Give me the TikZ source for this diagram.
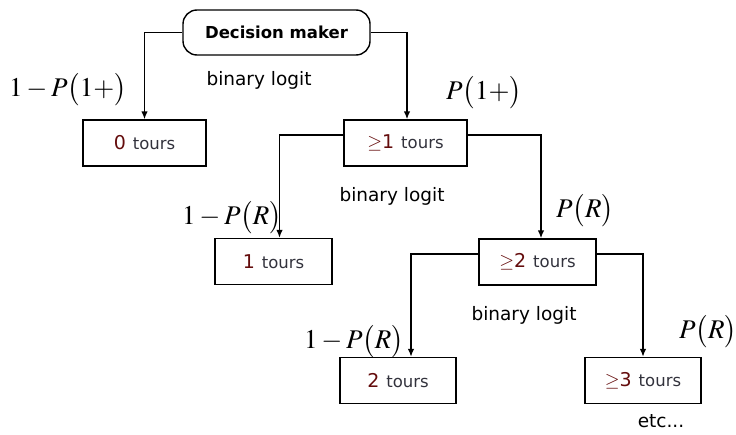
\documentclass[tikz,border=0pt]{standalone}
\usepackage{mathptmx}
\usepackage[no-math]{fontspec}
\setmainfont{DejaVu Sans}
\usetikzlibrary{arrows.meta}
\definecolor{numred}{RGB}{100,12,12}
\definecolor{toursgray}{RGB}{50,50,60}
\newcommand{\tnum}[1]{{\color{numred}\fontsize{19}{22}\selectfont #1}}
\newcommand{\trs}{\hspace{7pt}{\color{toursgray}\fontsize{16.5}{20}\selectfont tours}}
\tikzset{
  tourbox/.style={draw,line width=1.4pt,minimum height=46pt,inner sep=0pt},
  dmbox/.style={draw,line width=1.4pt,rounded corners=14pt,minimum width=187pt,minimum height=45pt,
    font=\fontsize{16.5}{19}\selectfont\bfseries},
  mathlbl/.style={inner sep=0pt,font=\fontsize{27}{30}\selectfont},
  txtlbl/.style={inner sep=0pt,font=\fontsize{18.5}{22}\selectfont},
  conn/.style={->,line width=1.4pt}
}
\begin{document}
\begin{tikzpicture}[x=1pt,y=-1pt,>={Latex[length=8pt,width=6.5pt]}]
   \useasboundingbox (0,0) rectangle (736,434);
   %decision maker
   \node[dmbox] (dm) at (276.5,32.5) {Decision maker};
   %boxes
   \node[tourbox,minimum width=123pt] (t0) at (144.5,143) {\tnum{0}\trs};
   \node[tourbox,minimum width=123pt] (t1) at (405.5,143) {\tnum{$\geq$1}\trs};
   \node[tourbox,minimum width=117pt] (r1) at (273.5,261.5) {\tnum{1}\trs};
   \node[tourbox,minimum width=117pt] (t2) at (537.5,262) {\tnum{$\geq$2}\trs};
   \node[tourbox,minimum width=116pt] (r2) at (398,380.5) {\tnum{2}\trs};
   \node[tourbox,minimum width=116pt] (t3) at (643,380.5) {\tnum{$\geq$3}\trs};
   %connectors
   \draw[conn] (dm.west) -| (t0.north);
   \draw[conn] (dm.east) -| ([xshift=1.5pt]t1.north);
   \draw[conn] ([yshift=8pt]t1.west) -| ([xshift=6pt]r1.north);
   \draw[conn] ([yshift=8pt]t1.east) -| ([xshift=3.5pt]t2.north);
   \draw[conn] ([yshift=8pt]t2.west) -| ([xshift=13pt]r2.north);
   \draw[conn] ([yshift=8pt]t2.east) -| (t3.north);
   %probabilities
   \node[mathlbl] (p0) at (68,90) {$1-P\bigl(1+\bigr)$};
   \node[mathlbl] (p1) at (484,93) {$P\bigl(1+\bigr)$};
   \node[mathlbl] (q1) at (232,218) {$1-P\bigl(R\bigr)$};
   \node[mathlbl] (q2) at (585,211) {$P\bigl(R\bigr)$};
   \node[mathlbl] (q3) at (354,342) {$1-P\bigl(R\bigr)$};
   \node[mathlbl] (q4) at (708,332) {$P\bigl(R\bigr)$};
   %binary logit
   \node[txtlbl] (b1) at (259,80) {binary logit};
   \node[txtlbl] (b2) at (392,196) {binary logit};
   \node[txtlbl] (b3) at (524,315) {binary logit};
   \node[txtlbl] (etc) at (661,421) {etc...};
\end{tikzpicture}
\end{document}
